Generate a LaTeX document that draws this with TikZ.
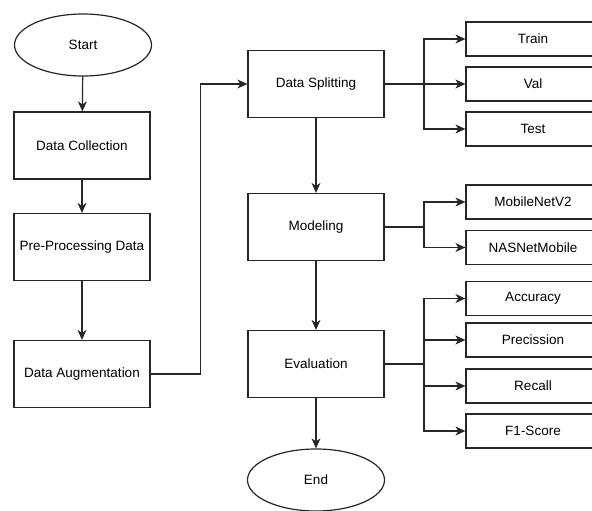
\documentclass[tikz,border=0pt]{standalone}
\usepackage{fontspec}
\setmainfont{Liberation Sans}
\usetikzlibrary{shapes.geometric,arrows.meta}
\begin{document}
\begin{tikzpicture}[x=1pt,y=-1pt,
    box/.style={draw=black!85, line width=1.2pt, rectangle, minimum width=136pt, minimum height=67pt, font=\fontsize{13.5}{16}\selectfont, inner sep=0pt},
    term/.style={draw=black!85, line width=1.2pt, ellipse, minimum width=137pt, minimum height=62pt, font=\fontsize{13.5}{16}\selectfont, inner sep=0pt},
    small/.style={draw=black!85, line width=1.2pt, rectangle, minimum width=134pt, minimum height=34pt, font=\fontsize{13.5}{16}\selectfont, inner sep=0pt},
    arr/.style={draw=black!85, line width=1.2pt, -{Stealth[length=10pt,width=9pt,inset=3pt]}},
    lin/.style={draw=black!85, line width=1.2pt}]
  \path[use as bounding box, clip] (0,0) rectangle (592,511);
  \node[term] (start) at (83,45) {Start};
  \node[box] (coll) at (82,145.5) {Data Collection};
  \node[box] (prep) at (82,247) {Pre-Processing Data};
  \node[box] (aug) at (82,374) {Data Augmentation};
  \node[box] (split) at (316,84) {Data Splitting};
  \node[box] (model) at (316,227) {Modeling};
  \node[box] (eval) at (316,364) {Evaluation};
  \node[term] (end) at (316,480) {End};
  \node[small] (train) at (533,39) {Train};
  \node[small] (val) at (533,84) {Val};
  \node[small] (test) at (533,129) {Test};
  \node[small] (mnet) at (533,202) {MobileNetV2};
  \node[small] (nas) at (533,247.5) {NASNetMobile};
  \node[small] (acc) at (533,298.5) {Accuracy};
  \node[small] (prec) at (533,340) {Precission};
  \node[small] (rec) at (533,386) {Recall};
  \node[small] (f1) at (533,431) {F1-Score};
  \coordinate (bsplit) at (424,84);
  \coordinate (bmodel) at (424,227);
  \coordinate (beval) at (424,364);
  \begin{scope}[arr]
    \draw (start) to (coll);
    \draw (coll) to (prep);
    \draw (prep) to (aug);
    \draw (aug.east) -- ++(50,0) |- (split.west);
    \draw (split) to (model);
    \draw (model) to (eval);
    \draw (eval) to (end);
    \draw (bsplit) |- (train.west);
    \draw (split.east) -- (val.west);
    \draw (bsplit) |- (test.west);
    \draw (bmodel) |- (mnet.west);
    \draw (bmodel) |- (nas.west);
    \draw (beval) |- (acc.west);
    \draw (beval) |- (prec.west);
    \draw (beval) |- (rec.west);
    \draw (beval) |- (f1.west);
  \end{scope}
  \draw[lin] (model.east) -- (bmodel);
  \draw[lin] (eval.east) -- (beval);
\end{tikzpicture}
\end{document}
